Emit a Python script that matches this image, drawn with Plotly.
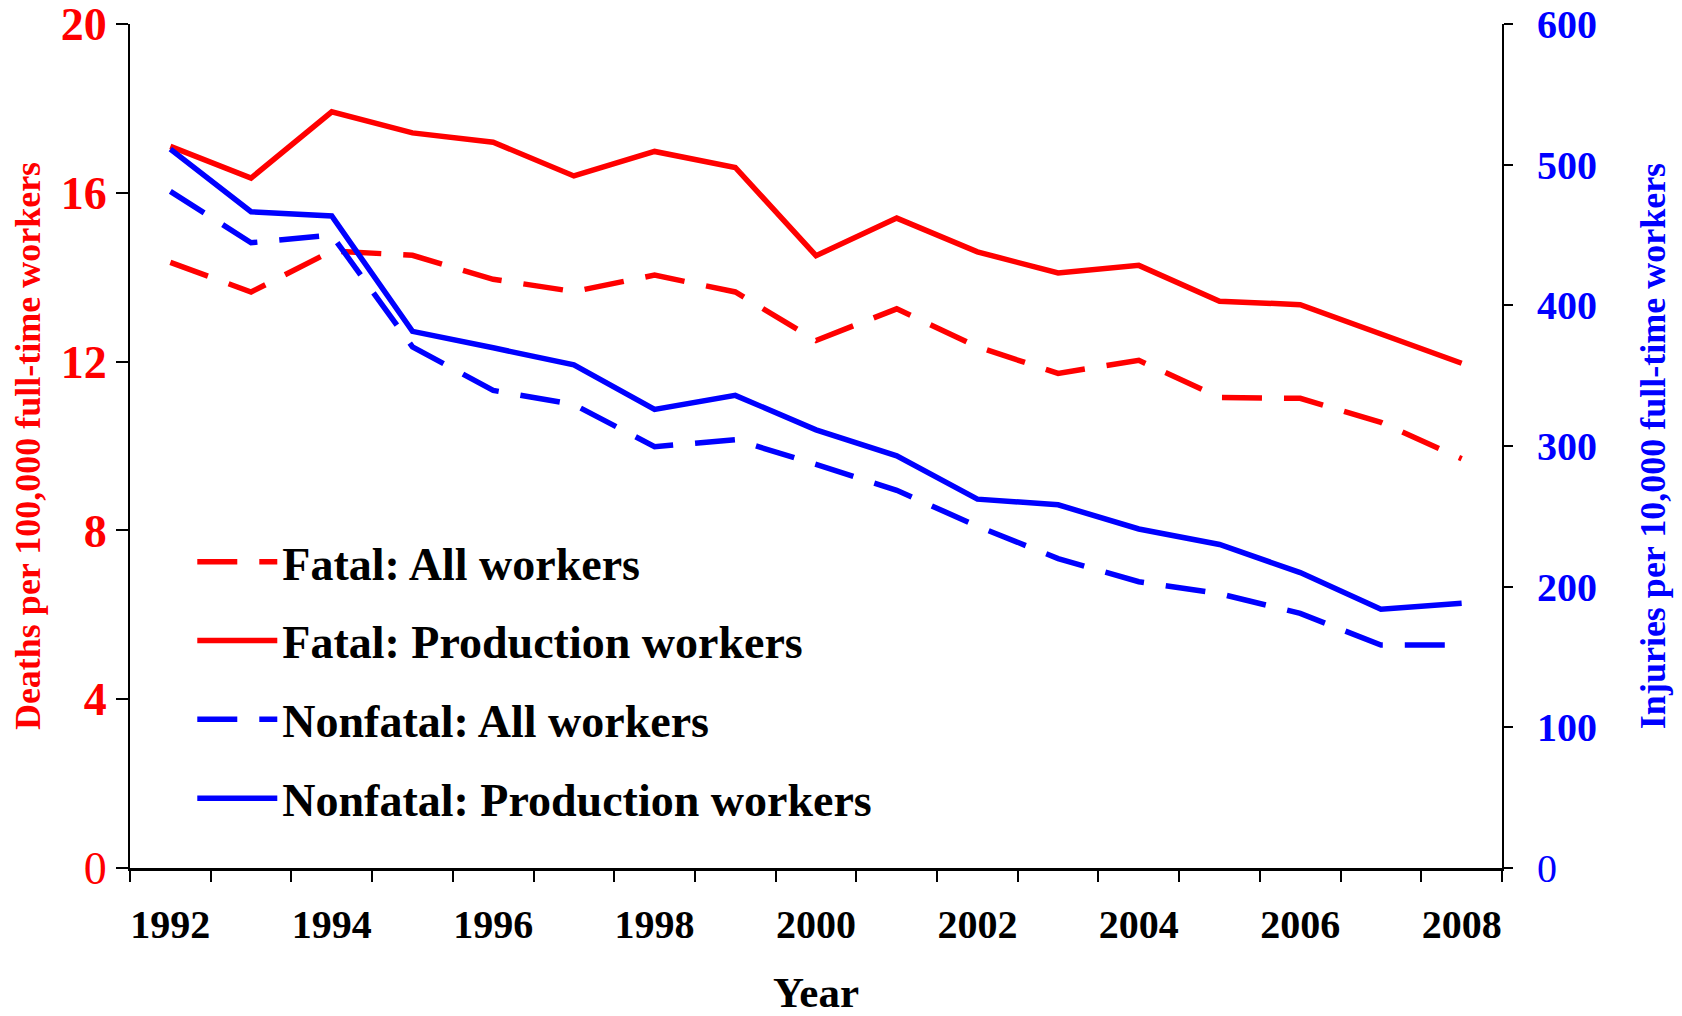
import plotly.graph_objects as go

years = list(range(1992, 2009))
fatal_all = [14.35, 13.65, 14.62, 14.52, 13.95, 13.66, 14.05, 13.65, 12.5, 13.25, 12.35, 11.72, 12.03, 11.15, 11.13, 10.56, 9.7]
fatal_prod = [17.1, 16.35, 17.92, 17.42, 17.2, 16.4, 16.98, 16.6, 14.51, 15.4, 14.6, 14.1, 14.28, 13.43, 13.35, 12.65, 11.96]
nonfatal_all = [481, 444.5, 450, 370.5, 339.5, 329.5, 299.5, 304.5, 287, 268.5, 243, 220, 203.5, 195, 181, 158.5, 158.5]
nonfatal_prod = [511, 466.5, 463.5, 381.5, 369.8, 357.7, 326, 336, 311.5, 293, 262.2, 258.2, 241, 230, 210, 184, 188.2]

x_labels = [str(y) for y in years[::2]]
left_ticks = [0, 4, 8, 12, 16, 20]
right_ticks = [0, 100, 200, 300, 400, 500, 600]

RED = "#FF0000"
BLUE = "#0000FF"
FONT = "Liberation Serif"
DASH = "40px,22px"
LW = 5.5


def fmt(v):
    return str(v) if v == 0 else "<b>%s</b>" % v


fig = go.Figure()
fig.add_trace(go.Scatter(x=years, y=fatal_all, mode="lines", name="<b>Fatal: All workers</b>",
                         line=dict(color=RED, width=LW, dash=DASH), legendgroup="a"))
fig.add_trace(go.Scatter(x=years, y=fatal_prod, mode="lines", name="<b>Fatal: Production workers</b>",
                         line=dict(color=RED, width=LW), legendgroup="b"))
fig.add_trace(go.Scatter(x=years, y=nonfatal_all, mode="lines", name="<b>Nonfatal: All workers</b>",
                         line=dict(color=BLUE, width=LW, dash=DASH), yaxis="y2", legendgroup="c"))
fig.add_trace(go.Scatter(x=years, y=nonfatal_prod, mode="lines", name="<b>Nonfatal: Production workers</b>",
                         line=dict(color=BLUE, width=LW), yaxis="y2", legendgroup="d"))

boundaries = [y - 0.5 for y in years] + [years[-1] + 0.5]

fig.update_layout(
    width=1674, height=1008,
    paper_bgcolor="white", plot_bgcolor="white",
    margin=dict(l=122, r=180, t=16, b=148),
    font=dict(family=FONT, color="black"),
    showlegend=True,
    legend=dict(x=0.0454, y=0.406, xanchor="left", yanchor="top",
                font=dict(family=FONT, size=46, color="black"),
                bgcolor="rgba(0,0,0,0)", tracegroupgap=16, itemwidth=80),
    xaxis=dict(range=[years[0] - 0.5, years[-1] + 0.5], tickvals=years[::2], ticktext=["<b>%s</b>" % t for t in x_labels],
               ticks="", showline=True, linecolor="black", linewidth=2.5, showgrid=False, zeroline=False,
               automargin=False,
               tickfont=dict(family=FONT, size=40, color="black"), ticklabelstandoff=19,
               minor=dict(tickvals=boundaries, ticks="outside", ticklen=11, tickwidth=2, tickcolor="black"),
               title=dict(text="<b>Year</b>", font=dict(family=FONT, size=43, color="black"), standoff=41)),
    yaxis=dict(range=[0, 20], tickvals=left_ticks, ticktext=[fmt(v) for v in left_ticks],
               ticks="outside", ticklen=12, tickwidth=2, tickcolor="black",
               showline=True, linecolor="black", linewidth=2, showgrid=False, zeroline=False,
               automargin=False, ticklabeloverflow="allow",
               tickfont=dict(family=FONT, size=46, color=RED),
               title=dict(text="<b>Deaths per 100,000 full-time workers</b>", font=dict(family=FONT, size=36, color=RED), standoff=15)),
    yaxis2=dict(range=[0, 600], tickvals=right_ticks, ticktext=[fmt(v) for v in right_ticks],
                overlaying="y", side="right", ticks="outside", ticklen=9,
                tickwidth=2, tickcolor="black", showline=True, linecolor="black", linewidth=2, showgrid=False,
                zeroline=False, automargin=False, ticklabeloverflow="allow",
                tickfont=dict(family=FONT, size=40, color=BLUE), ticklabelstandoff=16,
                title=dict(text="<b>Injuries per 10,000 full-time workers</b>", font=dict(family=FONT, size=36, color=BLUE), standoff=44)),
)

fig.write_html("out.html")
